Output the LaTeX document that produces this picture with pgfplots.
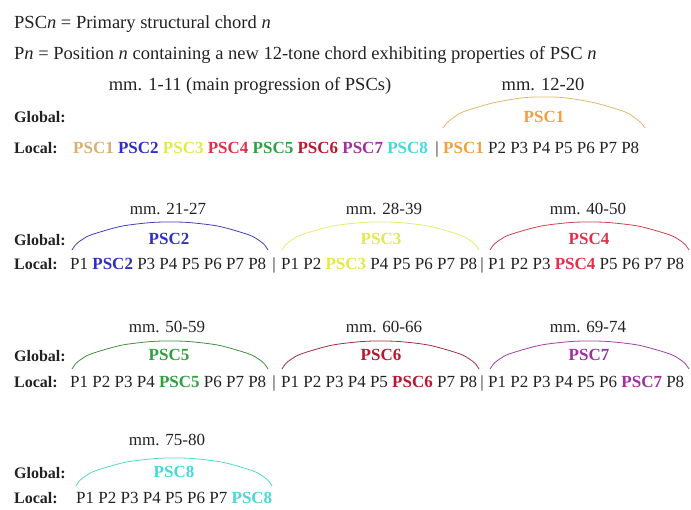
\documentclass[border=0pt]{standalone}
\usepackage{fontspec}
\setmainfont{Liberation Serif}
\usepackage{pgfplots}
\pgfplotsset{compat=1.18}
\definecolor{txt}{HTML}{222222}
\definecolor{c1a}{HTML}{D8B070}
\definecolor{c1}{HTML}{F0A040}
\definecolor{c2}{HTML}{3030C0}
\definecolor{c3}{HTML}{E4E84A}
\definecolor{c4}{HTML}{E0304C}
\definecolor{c5}{HTML}{30A040}
\definecolor{c6}{HTML}{B81830}
\definecolor{c7}{HTML}{A030A0}
\definecolor{c8}{HTML}{48D8D8}
\definecolor{a1}{HTML}{E0B870}
\definecolor{a2}{HTML}{4040B8}
\definecolor{a3}{HTML}{E6EA70}
\definecolor{a4}{HTML}{D04050}
\definecolor{a5}{HTML}{409040}
\definecolor{a6}{HTML}{A03040}
\definecolor{a7}{HTML}{A040A0}
\definecolor{a8}{HTML}{50D8D0}
\newcommand{\ps}[2]{\textbf{\textcolor{#1}{PSC#2}}}
\tikzset{big/.style={font=\fontsize{18.5}{22}\selectfont},
  lab/.style={font=\fontsize{16}{19}\selectfont\bfseries}}
\begin{document}
\begin{tikzpicture}[font=\fontsize{17}{20}\selectfont]
\begin{axis}[
  width=691pt, height=509pt, scale only axis, hide axis,
  xmin=0, xmax=691, ymin=0, ymax=509, y dir=reverse, clip=false,
  nodes={font=\fontsize{17}{20}\selectfont, text=txt, inner sep=0pt},
]
\addplot[draw=none] coordinates {(0,0) (691,509)};
% arcs
\addplot[a1, line width=0.8pt, smooth] coordinates {(443,128) (447.0,122.8) (453.1,117.9) (463.2,111.8) (493.5,102.8) (523.8,97.7) (544,97) (564.2,97.7) (594.5,102.8) (624.8,111.8) (634.9,117.9) (641,122.8) (645,128)};
\addplot[a2, line width=0.8pt, smooth] coordinates {(72,250) (75.9,244.4) (81.8,239.8) (91.6,234.7) (121,226.3) (150.4,222.6) (170,222) (189.6,222.6) (219,226.3) (248.4,234.7) (258.2,239.8) (264.1,244.4) (268,250)};
\addplot[a3, line width=0.8pt, smooth] coordinates {(282,250) (285.9,244.4) (291.85,239.8) (301.7,234.7) (331.25,226.3) (360.8,222.6) (380.5,222) (400.2,222.6) (429.75,226.3) (459.3,234.7) (469.15,239.8) (475.1,244.4) (479,250)};
\addplot[a4, line width=0.8pt, smooth] coordinates {(490,250) (494,244.4) (499.95,239.8) (509.9,234.7) (539.75,226.3) (569.6,222.6) (589.5,222) (609.4,222.6) (639.25,226.3) (669.1,234.7) (679.05,239.8) (685,244.4) (689,250)};
\addplot[a5, line width=0.8pt, smooth] coordinates {(72,369) (75.9,363.4) (81.8,358.8) (91.6,353.7) (121,345.3) (150.4,341.6) (170,341) (189.6,341.6) (219,345.3) (248.4,353.7) (258.2,358.8) (264.1,363.4) (268,369)};
\addplot[a6, line width=0.8pt, smooth] coordinates {(282,369) (285.9,363.4) (291.85,358.8) (301.7,353.7) (331.25,345.3) (360.8,341.6) (380.5,341) (400.2,341.6) (429.75,345.3) (459.3,353.7) (469.15,358.8) (475.1,363.4) (479,369)};
\addplot[a7, line width=0.8pt, smooth] coordinates {(490,369) (494,363.4) (499.95,358.8) (509.9,353.7) (539.75,345.3) (569.6,341.6) (589.5,341) (609.4,341.6) (639.25,345.3) (669.1,353.7) (679.05,358.8) (685,363.4) (689,369)};
\addplot[a8, line width=0.8pt, smooth] coordinates {(76,486) (79.9,480.4) (85.8,475.8) (95.6,470.7) (125,462.3) (154.4,458.6) (174,458) (193.6,458.6) (223,462.3) (252.4,470.7) (262.2,475.8) (268.1,480.4) (272,486)};
% header
\node[anchor=mid west, big] at (axis cs:14,26) {PSC\textit{n} = Primary structural chord \textit{n}};
\node[anchor=mid west, big] at (axis cs:14,57) {P\textit{n} = Position \textit{n} containing a new 12-tone chord exhibiting properties of PSC \textit{n}};
% row 1
\node[anchor=mid, big] at (axis cs:250,88) {mm. 1-11 (main progression of PSCs)};
\node[anchor=mid, big] at (axis cs:543,88) {mm. 12-20};
\node[anchor=mid west, lab] at (axis cs:14,120) {Global:};
\node[anchor=mid] at (axis cs:544,120) {\ps{c1}{1}};
\node[anchor=mid west, lab] at (axis cs:14,151) {Local:};
\node[anchor=mid west] at (axis cs:73,151) {\ps{c1a}{1} \ps{c2}{2} \ps{c3}{3} \ps{c4}{4} \ps{c5}{5} \ps{c6}{6} \ps{c7}{7} \ps{c8}{8}};
\node[anchor=mid] at (axis cs:437,151) {|};
\node[anchor=mid west] at (axis cs:443,151) {\ps{c1}{1} P2 P3 P4 P5 P6 P7 P8};
% row 2
\node[anchor=mid] at (axis cs:168,212) {mm. 21-27};
\node[anchor=mid] at (axis cs:384,212) {mm. 28-39};
\node[anchor=mid] at (axis cs:588,212) {mm. 40-50};
\node[anchor=mid west, lab] at (axis cs:14,243) {Global:};
\node[anchor=mid] at (axis cs:169,242) {\ps{c2}{2}};
\node[anchor=mid] at (axis cs:381,242) {\ps{c3}{3}};
\node[anchor=mid] at (axis cs:589,242) {\ps{c4}{4}};
\node[anchor=mid west, lab] at (axis cs:14,267) {Local:};
\node[anchor=mid west] at (axis cs:70,267) {P1 \ps{c2}{2} P3 P4 P5 P6 P7 P8};
\node[anchor=mid] at (axis cs:274,267) {|};
\node[anchor=mid west] at (axis cs:281,267) {P1 P2 \ps{c3}{3} P4 P5 P6 P7 P8};
\node[anchor=mid] at (axis cs:482,267) {|};
\node[anchor=mid west] at (axis cs:488,267) {P1 P2 P3 \ps{c4}{4} P5 P6 P7 P8};
% row 3
\node[anchor=mid] at (axis cs:167,330) {mm. 50-59};
\node[anchor=mid] at (axis cs:384,330) {mm. 60-66};
\node[anchor=mid] at (axis cs:588,330) {mm. 69-74};
\node[anchor=mid west, lab] at (axis cs:14,359) {Global:};
\node[anchor=mid] at (axis cs:169,358) {\ps{c5}{5}};
\node[anchor=mid] at (axis cs:381,358) {\ps{c6}{6}};
\node[anchor=mid] at (axis cs:589,358) {\ps{c7}{7}};
\node[anchor=mid west, lab] at (axis cs:14,385) {Local:};
\node[anchor=mid west] at (axis cs:70,385) {P1 P2 P3 P4 \ps{c5}{5} P6 P7 P8};
\node[anchor=mid] at (axis cs:274,385) {|};
\node[anchor=mid west] at (axis cs:281,385) {P1 P2 P3 P4 P5 \ps{c6}{6} P7 P8};
\node[anchor=mid] at (axis cs:482,385) {|};
\node[anchor=mid west] at (axis cs:488,385) {P1 P2 P3 P4 P5 P6 \ps{c7}{7} P8};
% row 4
\node[anchor=mid] at (axis cs:167,443) {mm. 75-80};
\node[anchor=mid west, lab] at (axis cs:14,476) {Global:};
\node[anchor=mid] at (axis cs:174,475) {\ps{c8}{8}};
\node[anchor=mid west, lab] at (axis cs:14,501) {Local:};
\node[anchor=mid west] at (axis cs:76,501) {P1 P2 P3 P4 P5 P6 P7 \ps{c8}{8}};
\end{axis}
\end{tikzpicture}
\end{document}
